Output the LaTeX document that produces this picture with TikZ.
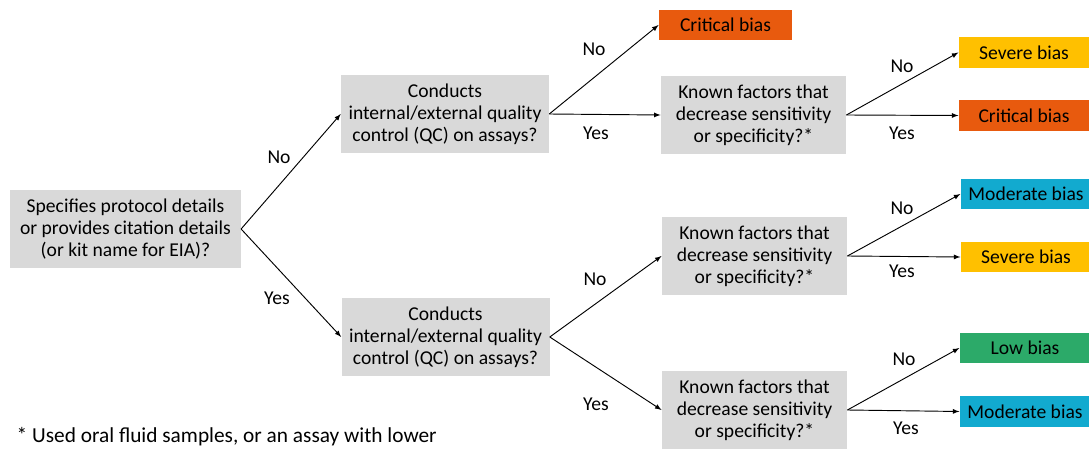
\documentclass[tikz,border=0pt]{standalone}
\usepackage{fontspec}
\setmainfont{Carlito}
\usepackage{xcolor}
\usetikzlibrary{positioning}
\tikzstyle{arrow} = [-latex, line width=0.7pt]
\definecolor{boxgray}{HTML}{D9D9D9}
\definecolor{critcol}{HTML}{E85A0E}
\definecolor{sevcol}{HTML}{FFC000}
\definecolor{modcol}{HTML}{12AACF}
\definecolor{lowcol}{HTML}{2CAA69}

\begin{document}
\begin{tikzpicture}[x=0.75pt, y=-0.75pt,
		every node/.style={font=\fontsize{14.7}{16.5}\selectfont},
		question/.style={fill=boxgray, align=center, inner sep=0pt, minimum height=58.5pt},
		outcome/.style={inner sep=0pt, minimum width=98pt, minimum height=23pt}]
		\useasboundingbox (0,0) rectangle (1089,452);
		
		\node (root) [question, minimum width=173pt] at (125.5,229) {Specifies protocol details\\or provides citation details\\(or kit name for EIA)?};
		\node (qcA) [question, minimum width=156pt] at (445,114) {Conducts\\internal/external quality\\control (QC) on assays?};
		\node (qcB) [question, minimum width=156pt] at (445.5,337) {Conducts\\internal/external quality\\control (QC) on assays?};
		\node (critA) [outcome, fill=critcol, minimum width=100pt] at (725.5,25) {Critical bias};
		\node (kfA) [question, minimum width=139pt] at (753.5,115) {Known factors that\\decrease sensitivity\\or specificity?*};
		\node (kfB) [question, minimum width=139pt] at (754.5,256) {Known factors that\\decrease sensitivity\\or specificity?*};
		\node (kfC) [question, minimum width=139pt] at (754.5,410) {Known factors that\\decrease sensitivity\\or specificity?*};
		\node (sevA) [outcome, fill=sevcol] at (1024,52.5) {Severe bias};
		\node (critB) [outcome, fill=critcol] at (1024,115.5) {Critical bias};
		\node (modA) [outcome, fill=modcol] at (1026,194) {Moderate bias};
		\node (sevB) [outcome, fill=sevcol] at (1026,257) {Severe bias};
		\node (lowA) [outcome, fill=lowcol] at (1025,348) {Low bias};
		\node (modB) [outcome, fill=modcol] at (1025,411.5) {Moderate bias};
		
		\node (noroot) at (279,157) {No};
		\node (yesroot) at (277,298) {Yes};
		\node (noqcA) at (594,49) {No};
		\node (yesqcA) at (596,133) {Yes};
		\node (nokfA) at (902,66) {No};
		\node (yeskfA) at (902,133) {Yes};
		\node (noqcB) at (595,279) {No};
		\node (yesqcB) at (596,404) {Yes};
		\node (nokfB) at (902,208) {No};
		\node (yeskfB) at (902,271) {Yes};
		\node (nokfC) at (904,359) {No};
		\node (yeskfC) at (906,428) {Yes};
		
		\node (note) [anchor=west, font=\fontsize{16}{19}\selectfont] at (12,437) {* Used oral fluid samples, or an assay with lower};
		
		\draw [arrow] (root.east) -- (qcA.west);
		\draw [arrow] (root.east) -- (qcB.west);
		\draw [arrow] (qcA.east) -- (critA.west);
		\draw [arrow] (qcA.east) -- (kfA.west);
		\draw [arrow] (kfA.east) -- (sevA.west);
		\draw [arrow] (kfA.east) -- (critB.west);
		\draw [arrow] (qcB.east) -- (kfB.west);
		\draw [arrow] (qcB.east) -- (kfC.west);
		\draw [arrow] (kfB.east) -- (modA.west);
		\draw [arrow] (kfB.east) -- (sevB.west);
		\draw [arrow] (kfC.east) -- (lowA.west);
		\draw [arrow] (kfC.east) -- (modB.west);
	\end{tikzpicture}
\end{document}
